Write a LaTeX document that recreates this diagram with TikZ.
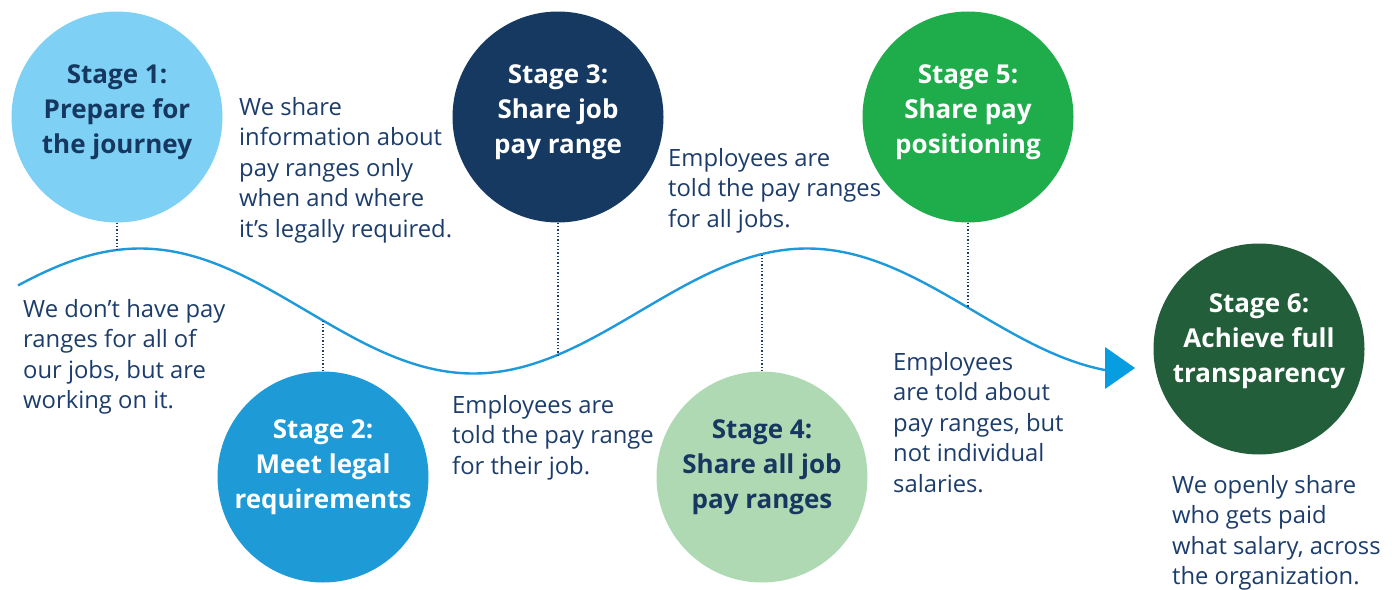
\documentclass[tikz,border=0pt]{standalone}
\usepackage{fontspec}
\setmainfont{Open Sans}
\definecolor{navy}{HTML}{1C3D6B}
\definecolor{headnavy}{HTML}{16375F}
\definecolor{cA}{HTML}{7ED0F5}
\definecolor{cB}{HTML}{1E9AD6}
\definecolor{cC}{HTML}{153961}
\definecolor{cD}{HTML}{AFD9B2}
\definecolor{cE}{HTML}{1FAD4B}
\definecolor{cF}{HTML}{235E3A}
\definecolor{wave}{HTML}{1E9ADA}
\definecolor{arrowblue}{HTML}{069EE0}
\tikzset{
  stagecircle/.style={circle, minimum size=211pt, inner sep=0pt, draw=none},
  headtext/.style={align=center, inner sep=0pt, font=\bfseries\fontsize{26}{35}\selectfont},
  bodytext/.style={align=left, inner sep=0pt, anchor=north west, text=navy, font=\fontsize{23.8}{30.5}\selectfont},
  dotline/.style={draw=navy, line width=1.3pt, dash pattern=on 1.3pt off 2pt},
  wavestyle/.style={draw=wave, line width=2.4pt}
}
\begin{document}
\begin{tikzpicture}[x=1pt, y=-1pt, declare function={wy(\t)=311 - 62.5*cos(0.53973*(\t-140));}]
\useasboundingbox (0,0) rectangle (1392,589);
% wave
\draw[wavestyle] plot[domain=18:1105, samples=300, smooth] (\x, {wy(\x)});
\coordinate (wend) at (1105,368);
\fill[arrowblue] (wend) ++(0,-21) -- ++(30,21) -- ++(-30,21) -- cycle;
% wave points
\coordinate (w1) at (117, {wy(117)});
\coordinate (w2) at (323, {wy(323)});
\coordinate (w3) at (558, {wy(558)});
\coordinate (w4) at (762, {wy(762)});
\coordinate (w5) at (968, {wy(968)});
% circles
\node[stagecircle, fill=cA] (s1) at (117,117) {};
\node[stagecircle, fill=cB] (s2) at (323,477) {};
\node[stagecircle, fill=cC] (s3) at (558,117) {};
\node[stagecircle, fill=cD] (s4) at (762,477) {};
\node[stagecircle, fill=cE] (s5) at (968,117) {};
\node[stagecircle, fill=cF] (s6) at (1259,349) {};
% dotted connectors
\draw[dotline] (s1.south) -- (w1);
\draw[dotline] (s2.north) -- (w2);
\draw[dotline] (s3.south) -- (w3);
\draw[dotline] (s4.north) -- (w4);
\draw[dotline] (s5.south) -- (w5);
% headings
\node[headtext, text=headnavy] (h1) at (117,112.5) {Stage 1:\\Prepare for\\the journey};
\node[headtext, text=white] (h2) at (323,467.5) {Stage 2:\\Meet legal\\requirements};
\node[headtext, text=white] (h3) at (558,112.5) {Stage 3:\\Share job\\pay range};
\node[headtext, text=headnavy] (h4) at (762,467) {Stage 4:\\Share all job\\pay ranges};
\node[headtext, text=white] (h5) at (968,112.5) {Stage 5:\\Share pay\\positioning};
\node[headtext, text=white] (h6) at (1259,341.5) {Stage 6:\\Achieve full\\transparency};
% body texts
\node[bodytext] (t1) at (239,97) {We share\\information about\\pay ranges only\\when and where\\it’s legally required.};
\node[bodytext] (t2) at (23,299) {We don’t have pay\\ranges for all of\\our jobs, but are\\working on it.};
\node[bodytext] (t3) at (452,395) {Employees are\\told the pay range\\for their job.};
\node[bodytext] (t4) at (668,148) {Employees are\\told the pay ranges\\for all jobs.};
\node[bodytext] (t5) at (893,352) {Employees\\are told about\\pay ranges, but\\not individual\\salaries.};
\node[bodytext] (t6) at (1172,475) {We openly share\\who gets paid\\what salary, across\\the organization.};
\end{tikzpicture}
\end{document}
